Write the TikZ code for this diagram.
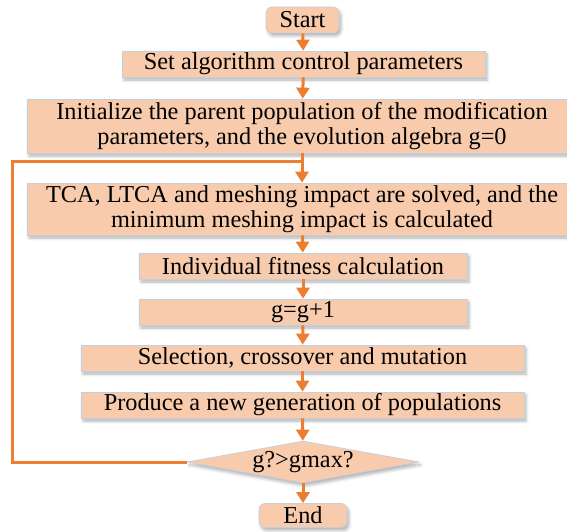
\documentclass[tikz,border=0pt]{standalone}
\usepackage{fontspec}
\setmainfont{Liberation Serif}
\usetikzlibrary{arrows.meta}
\usetikzlibrary{shapes.geometric}
\usetikzlibrary{shadows.blur}

\definecolor{peach}{RGB}{248,203,173}
\definecolor{flow}{RGB}{237,125,49}
\definecolor{edgegrey}{RGB}{196,207,221}

\begin{document}
\begin{tikzpicture}[x=1pt,y=1pt,yscale=-1,xscale=1,
  box/.style={draw=edgegrey,line width=0.7pt,fill=peach,inner sep=0pt,align=center,
    font=\fontsize{24.3}{25.5}\selectfont,
    blur shadow={shadow xshift=2pt,shadow yshift=-3pt,shadow blur radius=3pt,shadow opacity=30}},
  termbox/.style={box,rounded corners=6pt},
  decbox/.style={box,diamond,shape aspect=5.5},
  flowline/.style={draw=flow,line width=3pt},
  flowarrow/.style={flowline,-{Triangle[width=13pt,length=11pt]}}]
\useasboundingbox (0,0) rectangle (567,532);

%Shape: Rounded Rectangle [start]
\node [termbox,minimum width=73pt,minimum height=26pt] (start) at (302.5,20) {Start};
%Shape: Rectangle [set parameters]
\node [box,minimum width=363pt,minimum height=26pt] (setpar) at (303.5,64) {Set algorithm control parameters};
%Shape: Rectangle [initial population]
\node [box,minimum width=550pt,minimum height=54pt] (init) at (302,126) {Initialize the parent population of the modification\\parameters, and the evolution algebra g=0};
%Shape: Rectangle [solve]
\node [box,minimum width=550pt,minimum height=52pt] (solve) at (302,209) {TCA, LTCA and meshing impact are solved, and the\\minimum meshing impact is calculated};
%Shape: Rectangle [fitness]
\node [box,minimum width=328pt,minimum height=26pt] (fit) at (303,266) {Individual fitness calculation};
%Shape: Rectangle [counter]
\node [box,minimum width=328pt,minimum height=26pt] (count) at (303,312) {g=g+1};
%Shape: Rectangle [operators]
\node [box,minimum width=443pt,minimum height=26pt] (oper) at (302.5,358) {Selection, crossover and mutation};
%Shape: Rectangle [new generation]
\node [box,minimum width=443pt,minimum height=26pt] (newgen) at (302.5,405) {Produce a new generation of populations};
%Shape: Diamond [condition]
\node [decbox,minimum width=232pt,minimum height=42pt] (cond) at (303,462) {g?>gmax?};
%Shape: Rounded Rectangle [end]
\node [termbox,minimum width=88pt,minimum height=24pt] (finish) at (303,515.5) {End};

%Coordinates of the loop
\coordinate (loopcorner) at (12,161);
\coordinate (loopjoin) at (303,161);

%Straight Lines
\draw [flowarrow] (start) -- (setpar);
\draw [flowarrow] (setpar) -- (init);
\draw [flowarrow] (init.south -| solve.north) -- (solve);
\draw [flowarrow] (solve) -- (fit);
\draw [flowarrow] (fit) -- (count);
\draw [flowarrow] (count) -- (oper);
\draw [flowarrow] (oper) -- (newgen);
\draw [flowarrow] (newgen) -- (cond);
\draw [flowarrow] (cond) -- (finish);
%Straight Lines [loop back]
\draw [flowline] (cond.west) -| (loopcorner) -- (loopjoin);

\end{tikzpicture}
\end{document}
